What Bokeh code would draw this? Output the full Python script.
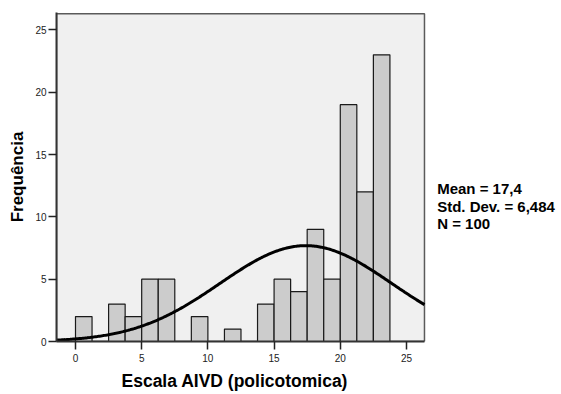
import numpy as np
from bokeh.plotting import figure
from bokeh.models import Range1d, Label, FixedTicker, ColumnDataSource, Title
from bokeh.embed import file_html
from bokeh.resources import INLINE

# ---- data ----
bin_width = 1.25
bin_left = [0.0, 1.25, 2.5, 3.75, 5.0, 6.25, 7.5, 8.75, 10.0, 11.25,
            12.5, 13.75, 15.0, 16.25, 17.5, 18.75, 20.0, 21.25, 22.5]
counts = [2, 0, 3, 2, 5, 5, 0, 2, 0, 1, 0, 3, 5, 4, 9, 5, 19, 12, 23]
mean = 17.4
std_dev = 6.484
n_total = 100
stats_lines = ["Mean = 17,4", "Std. Dev. = 6,484", "N = 100"]
x_ticks = [0, 5, 10, 15, 20, 25]
y_ticks = [0, 5, 10, 15, 20, 25]
x_title = "Escala AIVD (policotomica)"
y_title = "Frequência"

FONT = "Liberation Sans"

# visible plotting area (data units)
X0, X1 = -1.435, 26.36
Y0, Y1 = 0.0, 26.3

# frame extends to the right edge so the stats text can sit there unclipped
p = figure(width=561, height=394, output_backend="svg", toolbar_location=None,
           x_range=Range1d(X0, 36.71), y_range=Range1d(0, 26.4),
           min_border_left=56, min_border_right=0, min_border_top=12,
           min_border_bottom=52)

p.background_fill_color = "white"
p.border_fill_color = "white"
p.outline_line_color = None
p.xgrid.visible = False
p.ygrid.visible = False

# grey plot-area panel
p.quad(left=[X0], right=[X1], bottom=[Y0], top=[Y1],
       fill_color="#f0f0f0", line_color="#5a5a5a", line_width=1.5)

src = ColumnDataSource(dict(
    left=bin_left,
    right=[b + bin_width for b in bin_left],
    top=counts,
    bottom=[0] * len(counts),
))
p.quad(left="left", right="right", top="top", bottom="bottom", source=src,
       fill_color="#cccccc", line_color="#1a1a1a", line_width=1.2)

# fitted normal curve from the chart's stated mean / std / N
xs = np.linspace(X0, X1, 300)
ys = n_total * bin_width / (std_dev * np.sqrt(2 * np.pi)) * np.exp(-0.5 * ((xs - mean) / std_dev) ** 2)
p.line(xs, ys, line_color="black", line_width=3)

for ax in (p.xaxis[0], p.yaxis[0]):
    ax.axis_line_color = "#333333"
    ax.axis_line_width = 2
    ax.major_tick_line_color = "#222222"
    ax.major_tick_line_width = 1.5
    ax.major_tick_in = 0
    ax.major_tick_out = 8
    ax.minor_tick_line_color = None
    ax.major_label_text_font = FONT
    ax.major_label_text_font_size = "10px"
    ax.major_label_text_color = "#222222"
    ax.axis_label_text_font = FONT
    ax.axis_label_text_font_style = "bold"
    ax.axis_label_text_font_size = "17px"
    ax.axis_label_text_color = "black"

p.xaxis.bounds = (X0, X1)
p.xaxis.ticker = FixedTicker(ticks=x_ticks)
p.yaxis.ticker = FixedTicker(ticks=y_ticks)
p.xaxis.major_label_standoff = 4
p.yaxis.major_label_standoff = 2
p.yaxis.axis_label = y_title
p.yaxis.axis_label_standoff = 5

# x-axis title, centred under the grey panel
p.add_layout(Title(text=x_title, align="left", offset=65, standoff=8,
                   text_font=FONT, text_font_style="bold",
                   text_font_size="17.5px", text_color="black"), "below")

# stats text to the right of the grey panel
base_y = [12.27, 10.87, 9.47]
for txt, yy in zip(stats_lines, base_y):
    p.add_layout(Label(x=27.32, y=yy, text=txt, text_font=FONT,
                       text_font_style="bold", text_font_size="15px",
                       text_color="black", text_baseline="alphabetic"))

open("out.html", "w").write(file_html(p, INLINE))
